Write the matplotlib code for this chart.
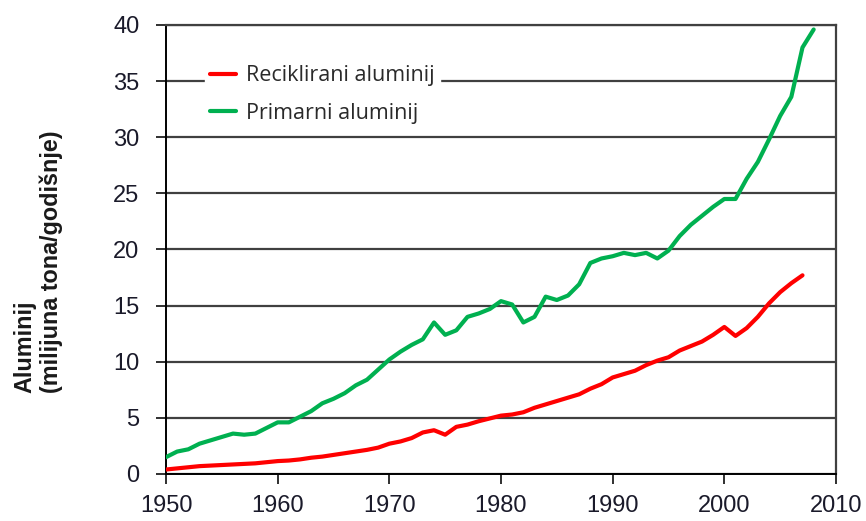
import numpy as np
import matplotlib.pyplot as plt

godine_prim = np.arange(1950, 2009)
primarni = [1.5, 2.0, 2.2, 2.7, 3.0, 3.3, 3.6, 3.5, 3.6, 4.1,
            4.6, 4.6, 5.1, 5.6, 6.3, 6.7, 7.2, 7.9, 8.4, 9.3,
            10.2, 10.9, 11.5, 12.0, 13.5, 12.4, 12.8, 14.0, 14.3, 14.7,
            15.4, 15.1, 13.5, 14.0, 15.8, 15.5, 15.9, 16.9, 18.8, 19.2,
            19.4, 19.7, 19.5, 19.7, 19.2, 19.9, 21.2, 22.2, 23.0, 23.8,
            24.5, 24.5, 26.3, 27.8, 29.8, 31.9, 33.6, 38.0, 39.6]

godine_rec = np.arange(1950, 2008)
reciklirani = [0.4, 0.5, 0.6, 0.7, 0.75, 0.8, 0.85, 0.9, 0.95, 1.05,
               1.15, 1.2, 1.3, 1.45, 1.55, 1.7, 1.85, 2.0, 2.15, 2.35,
               2.7, 2.9, 3.2, 3.7, 3.9, 3.5, 4.2, 4.4, 4.7, 4.95,
               5.2, 5.3, 5.5, 5.9, 6.2, 6.5, 6.8, 7.1, 7.6, 8.0,
               8.6, 8.9, 9.2, 9.7, 10.1, 10.4, 11.0, 11.4, 11.8, 12.4,
               13.1, 12.3, 13.0, 14.0, 15.2, 16.2, 17.0, 17.7]

xticks = list(range(1950, 2011, 10))
yticks = list(range(0, 41, 5))

grid_col = '#404040'

fig = plt.figure(figsize=(8.66, 5.21), dpi=100)
ax = fig.add_axes([166/866, 47/521, 670/866, 449/521])

ax.plot(godine_rec, reciklirani, color='#ff0000', lw=3,
        solid_joinstyle='round', solid_capstyle='round', label='Reciklirani aluminij', zorder=3)
ax.plot(godine_prim, primarni, color='#00b050', lw=3,
        solid_joinstyle='round', solid_capstyle='round', label='Primarni aluminij', zorder=3)

ax.set_xlim(1950, 2010)
ax.set_ylim(0, 40)
ax.set_xticks(xticks)
ax.set_yticks(yticks)
ax.yaxis.grid(True, color=grid_col, lw=1.6)
ax.set_axisbelow(True)

for s in ['top', 'right']:
    ax.spines[s].set_color(grid_col)
    ax.spines[s].set_linewidth(1.6)
for s in ['left', 'bottom']:
    ax.spines[s].set_color('black')
    ax.spines[s].set_linewidth(1.4)

ax.tick_params(axis='both', direction='out', length=7, width=1.3, color='#202020',
               labelsize=17, labelcolor='#1a1a2a')
ax.tick_params(axis='x', pad=8)
ax.tick_params(axis='y', pad=12)
for lab in ax.get_xticklabels() + ax.get_yticklabels():
    lab.set_family('Liberation Sans')

leg = ax.legend(loc='upper left', bbox_to_anchor=(205/866, (521-60)/521),
                bbox_transform=fig.transFigure, frameon=True, framealpha=1,
                edgecolor='white', fancybox=False, borderpad=0.25,
                handlelength=1.2, handletextpad=0.45, labelspacing=0.75,
                prop={'family': 'Open Sans', 'size': 15.5}, borderaxespad=0)
for t in leg.get_texts():
    t.set_color('#2a2a2a')
leg.set_zorder(4)

fig.text(38/866, (521-393)/521, 'Aluminij\n(milijuna tona/godišnje)', rotation=90,
         ha='center', va='bottom', multialignment='left', fontsize=16.8,
         fontweight='bold', family='Liberation Sans', color='#1a1a1a',
         linespacing=1.15)

fig.savefig('out.png', dpi=100)
